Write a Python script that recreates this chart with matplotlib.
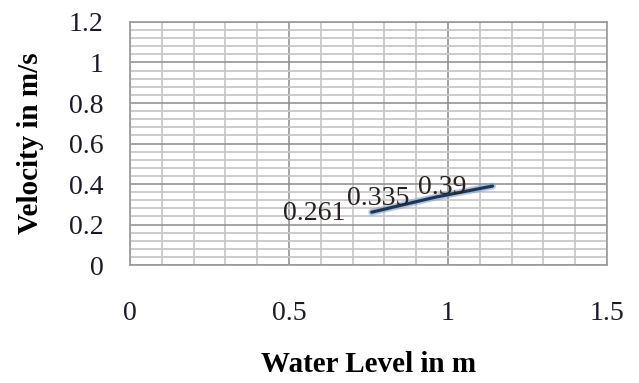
import matplotlib
matplotlib.use("Agg")
import matplotlib.pyplot as plt
import numpy as np

plt.rcParams["font.family"] = "Liberation Serif"

# data
water_level = [0.76, 0.96, 1.14]
velocity = [0.261, 0.335, 0.39]
point_labels = ["0.261", "0.335", "0.39"]

x_ticks = [0, 0.5, 1, 1.5]
x_ticklabels = ["0", "0.5", "1", "1.5"]
y_ticks = [0, 0.2, 0.4, 0.6, 0.8, 1.0, 1.2]
y_ticklabels = ["0", "0.2", "0.4", "0.6", "0.8", "1", "1.2"]

fig = plt.figure(figsize=(6.39, 3.83), dpi=100)
ax = fig.add_axes([0.2034, 0.308, 0.7466, 0.6346])

ax.set_xlim(0, 1.5)
ax.set_ylim(0, 1.2)

# grid: minor light, major darker
ax.set_xticks(np.arange(0, 1.501, 0.1), minor=True)
ax.set_yticks(np.arange(0, 1.201, 0.04), minor=True)
ax.grid(which="minor", color="#c8c8c8", linewidth=1.3, zorder=0)
ax.grid(which="major", color="#8c8c8c", linewidth=1.1, zorder=0)
ax.set_axisbelow(True)

ax.set_xticks(x_ticks)
ax.set_xticklabels(x_ticklabels)
ax.set_yticks(y_ticks)
ax.set_yticklabels(y_ticklabels)
ax.tick_params(which="both", length=0, labelsize=20, colors="#1a1a2a")
ax.tick_params(axis="x", pad=26)
ax.tick_params(axis="y", pad=19)

for s in ax.spines.values():
    s.set_color("#9a9a9a")
    s.set_linewidth(1.2)

# line with a soft glow like the original
ax.plot(water_level, velocity, color="#7fa6d6", linewidth=5, alpha=0.6, zorder=3,
        solid_capstyle="round")
ax.plot(water_level, velocity, color="#1f3552", linewidth=2.3, zorder=4,
        solid_capstyle="round")

for x, y, t in zip(water_level, velocity, point_labels):
    ax.annotate(t, (x, y), xytext=(-19, -1), textcoords="offset points",
                ha="right", va="center", fontsize=20, color="#2a2020", zorder=5)

ax.set_xlabel("Water Level in m", fontsize=21, fontweight="bold", labelpad=18)
ax.set_ylabel("Velocity in m/s", fontsize=21, fontweight="bold", labelpad=18)

fig.savefig("out.png", dpi=100, facecolor="white")
